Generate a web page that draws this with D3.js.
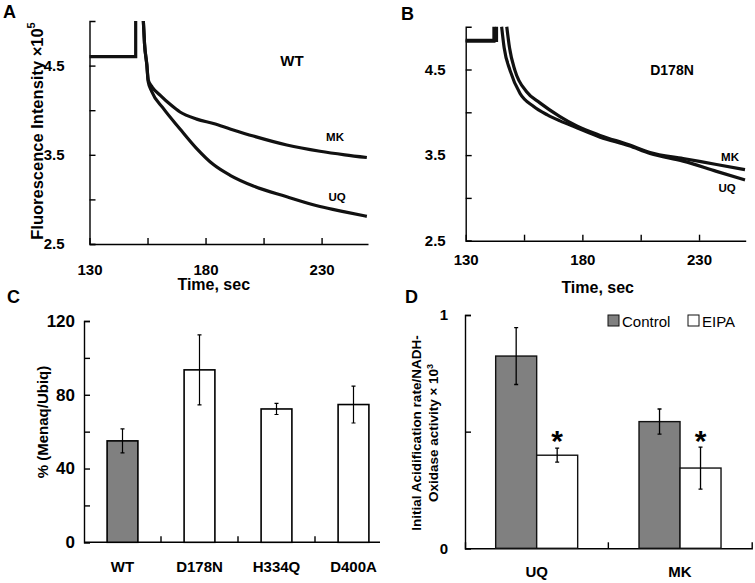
<!DOCTYPE html>
<html lang="en">
<head>
  <meta charset="UTF-8">
  <title>Menaquinone / ubiquinone acidification</title>
  <style>
    body { margin: 0; background: #fff; }
    svg { display: block; }
  </style>
</head>
<body>
  <script src="https://d3js.org/d3.v7.min.js"></script>
  <script>
    // ---- data ----
    // A / B : fluorescence traces [time sec, intensity x1e5]
    const timeTicks = [130, 155, 180, 205, 230];
    const timeLabels = [130, 180, 230];
    const intensityTicks = [2.5, 3, 3.5, 4, 4.5];
    const intensityLabels = [2.5, 3.5, 4.5];

    const wtBaseline = [[130, 4.6], [149.9, 4.6], [149.9, 5.0]];
    const wtMK = [[153.2, 5.0], [153.7, 4.75], [154.7, 4.51], [155.3, 4.34], [157, 4.26], [160.4, 4.17], [165, 4.06], [169, 3.98], [176.2, 3.9], [183.4, 3.85], [190.6, 3.79], [200.6, 3.71], [215, 3.61], [229.3, 3.54], [240, 3.5], [249.5, 3.47]];
    const wtUQ = [[153.2, 5.0], [153.7, 4.75], [154.7, 4.51], [155.3, 4.32], [156.8, 4.21], [161.8, 4.02], [169, 3.79], [176.2, 3.57], [183.4, 3.39], [190.6, 3.27], [200.6, 3.15], [215, 3.03], [229.3, 2.92], [240, 2.86], [249.5, 2.81]];

    const d178nBaseUQ = [[130, 4.83], [142.1, 4.83], [142.1, 5.0]];
    const d178nBaseMK = [[130, 4.84], [143.2, 4.84], [143.2, 5.0]];
    const d178nUQ = [[145.4, 5.0], [146.5, 4.75], [149, 4.49], [153.3, 4.22], [159, 4.07], [165, 3.97], [170.4, 3.9], [177.6, 3.82], [187.6, 3.71], [200, 3.61], [209, 3.52], [223.2, 3.43], [237.5, 3.31], [249.7, 3.21]];
    const d178nMK = [[147.6, 5.0], [148.8, 4.75], [151.1, 4.49], [156.1, 4.24], [161.8, 4.11], [170.4, 3.95], [177.6, 3.84], [187.6, 3.73], [200, 3.62], [209, 3.53], [223.2, 3.46], [237.5, 3.39], [249.7, 3.33]];

    // C : % (Menaq/Ubiq)
    const mutants = ['WT', 'D178N', 'H334Q', 'D400A'];
    const menaqRatio = [55, 93.5, 72.3, 74.7];
    const menaqErr = [6.5, 19, 3, 10];
    const ratioTicks = [0, 20, 40, 60, 80, 100, 120];
    const ratioLabels = [0, 40, 80, 120];

    // D : initial acidification rate / NADH oxidase
    const substrates = ['UQ', 'MK'];
    const treatments = ['Control', 'EIPA'];
    const controlRate = [0.824, 0.543];
    const controlErr = [0.122, 0.054];
    const eipaRate = [0.399, 0.344];
    const eipaErr = [0.03, 0.09];
    const rateTicks = [0, 0.5, 1];
    const rateLabels = [0, 1];

    const [width, height] = [755, 583];
    const svg = d3.select('body').append('svg').attr('width', width).attr('height', height);

    const arial = '"Liberation Sans", Arial, sans-serif';
    const grey = '#808080';

    function styleAxis(g, size) {
      g.select('.domain').attr('stroke', '#000').attr('stroke-width', 1.4);
      g.selectAll('.tick line').attr('stroke', '#000').attr('stroke-width', 1.4);
      g.selectAll('.tick text').attr('fill', '#000')
        .style('font-family', arial).style('font-size', size + 'px').style('font-weight', 'bold');
    }

    function panelLetter(txt, x, y) {
      svg.append('text').attr('x', x).attr('y', y).text(txt)
        .style('font-family', arial).style('font-weight', 'bold').style('font-size', '18px');
    }

    // ---------- trace panels ----------
    function tracePanel(o) {
      const x = d3.scaleLinear().domain([130, 250]).range(o.xr);
      const y = d3.scaleLinear().domain([2.5, 5]).range(o.yr);
      const g = svg.append('g');

      const xAxis = d3.axisBottom(x).tickValues(timeTicks).tickSizeInner(-6).tickSizeOuter(0)
        .tickPadding(o.xPad).tickFormat(d => timeLabels.includes(d) ? d : '');
      const yAxis = d3.axisLeft(y).tickValues(intensityTicks).tickSizeInner(-6).tickSizeOuter(-6)
        .tickPadding(o.yPad).tickFormat(d => intensityLabels.includes(d) ? d3.format('.1f')(d) : '');

      g.append('g').attr('transform', `translate(0,${o.yr[0]})`).call(xAxis).call(a => styleAxis(a, o.fs));
      g.append('g').attr('transform', `translate(${o.xr[0]},0)`).call(yAxis).call(a => styleAxis(a, o.fs));

      const straight = d3.line().x(d => x(d[0])).y(d => y(d[1]));
      const smooth = d3.line().x(d => x(d[0])).y(d => y(d[1])).curve(d3.curveMonotoneX);

      o.bases.forEach(b => g.append('path').attr('d', straight(b))
        .attr('fill', 'none').attr('stroke', '#111').attr('stroke-width', 3.2));
      o.traces.forEach(t => g.append('path').attr('d', smooth(t))
        .attr('fill', 'none').attr('stroke', '#111').attr('stroke-width', 3.2));

      g.append('text').attr('x', (o.xr[0] + o.xr[1]) / 2 + o.titleDx).attr('y', o.yr[0] + o.titleDy)
        .attr('text-anchor', 'middle').text('Time, sec')
        .style('font-family', arial).style('font-weight', 'bold').style('font-size', '16px');

      o.notes.forEach(n => g.append('text').attr('x', n.x).attr('y', n.y).attr('text-anchor', 'middle')
        .attr('dominant-baseline', 'central').text(n.t)
        .style('font-family', arial).style('font-weight', 'bold').style('font-size', n.s + 'px'));
      return g;
    }

    tracePanel({
      xr: [89.5, 368], yr: [244, 21], xPad: 20, yPad: 25, fs: 15,
      titleDx: -15, titleDy: 46,
      bases: [wtBaseline], traces: [wtMK, wtUQ],
      notes: [{ t: 'WT', x: 292, y: 60, s: 15 }, { t: 'MK', x: 335, y: 137, s: 11.5 }, { t: 'UQ', x: 337, y: 197, s: 11.5 }]
    });

    tracePanel({
      xr: [465.7, 745.7], yr: [240.7, 26.7], xPad: 14, yPad: 20, fs: 15,
      titleDx: -8, titleDy: 52,
      bases: [d178nBaseUQ, d178nBaseMK], traces: [d178nUQ, d178nMK],
      notes: [{ t: 'D178N', x: 672, y: 70, s: 14 }, { t: 'MK', x: 730, y: 157, s: 11.5 }, { t: 'UQ', x: 727, y: 188, s: 11.5 }]
    });

    // y label A
    svg.append('text').attr('transform', 'translate(37,131) rotate(-90)').attr('text-anchor', 'middle')
      .attr('dominant-baseline', 'central')
      .style('font-family', arial).style('font-weight', 'bold').style('font-size', '16.5px')
      .call(t => {
        t.append('tspan').text('Fluorescence Intensity \u00d710');
        t.append('tspan').attr('dy', -6).style('font-size', '11px').text('5');
      });

    panelLetter('A', 3, 18);
    panelLetter('B', 401, 20);
    panelLetter('C', 7, 303);
    panelLetter('D', 405, 303);

    // ---------- C : bar chart ----------
    {
      const x = d3.scaleBand().domain(mutants).range([84, 392]).paddingInner(0.6).paddingOuter(0.3);
      const y = d3.scaleLinear().domain([0, 120]).range([542.3, 321]);
      const g = svg.append('g');

      const yAxis = d3.axisLeft(y).tickValues(ratioTicks).tickSizeInner(-6).tickSizeOuter(-6)
        .tickPadding(9).tickFormat(d => ratioLabels.includes(d) ? d : '');
      g.append('g').attr('transform', 'translate(84,0)').call(yAxis).call(a => styleAxis(a, 17));

      const xAxis = d3.axisBottom(x).tickSizeInner(-6).tickSizeOuter(0).tickPadding(19);
      g.append('g').attr('transform', 'translate(0,542.3)').call(xAxis)
        .call(a => styleAxis(a, 15))
        .call(a => a.select('.domain').attr('d', 'M84,0H380'));

      // ticks between categories
      const step = x.step();
      g.selectAll('.sep').data(mutants.slice(1)).enter().append('line')
        .attr('x1', d => x(d) - step * 0.3).attr('x2', d => x(d) - step * 0.3)
        .attr('y1', 542.3).attr('y2', 536.3).attr('stroke', '#000').attr('stroke-width', 1.4);

      g.selectAll('.bar').data(mutants).enter().append('rect')
        .attr('x', d => x(d)).attr('width', x.bandwidth())
        .attr('y', (d, i) => y(menaqRatio[i])).attr('height', (d, i) => y(0) - y(menaqRatio[i]))
        .attr('fill', (d, i) => i === 0 ? grey : '#fff').attr('stroke', '#000').attr('stroke-width', 1.6);

      g.selectAll('.err').data(mutants).enter().append('path')
        .attr('d', (d, i) => {
          const cx = x(d) + x.bandwidth() / 2;
          const t = y(menaqRatio[i] + menaqErr[i]), b = y(menaqRatio[i] - menaqErr[i]);
          return `M${cx - 2},${t}H${cx + 2}M${cx},${t}V${b}M${cx - 2},${b}H${cx + 2}`;
        })
        .attr('fill', 'none').attr('stroke', '#000').attr('stroke-width', 1.2);

      g.append('text').attr('transform', 'translate(42,422) rotate(-90)').attr('text-anchor', 'middle')
        .attr('dominant-baseline', 'central').text('% (Menaq/Ubiq)')
        .style('font-family', arial).style('font-weight', 'bold').style('font-size', '15px');
    }

    // ---------- D : grouped bars ----------
    {
      const x0 = d3.scaleBand().domain(substrates).range([465, 751.7]).paddingInner(0.428).paddingOuter(0.214);
      const x1 = d3.scaleBand().domain(treatments).range([0, x0.bandwidth()]);
      const y = d3.scaleLinear().domain([0, 1]).range([548.3, 315]);
      const g = svg.append('g');

      const yAxis = d3.axisLeft(y).tickValues(rateTicks).tickSizeInner(-6).tickSizeOuter(-6)
        .tickPadding(17).tickFormat(d => rateLabels.includes(d) ? d : '');
      g.append('g').attr('transform', 'translate(465,0)').call(yAxis).call(a => styleAxis(a, 15));

      const xAxis = d3.axisBottom(x0).tickSizeInner(-6).tickSizeOuter(-6).tickPadding(18);
      g.append('g').attr('transform', 'translate(0,548.3)').call(xAxis).call(a => styleAxis(a, 15));

      const sepX = x0('MK') - x0.step() * 0.428 / 2;
      g.append('line').attr('x1', sepX).attr('x2', sepX).attr('y1', 548.3).attr('y2', 542.3)
        .attr('stroke', '#000').attr('stroke-width', 1.4);

      const rows = substrates.flatMap((s, i) => [
        { s, t: 'Control', v: controlRate[i], e: controlErr[i] },
        { s, t: 'EIPA', v: eipaRate[i], e: eipaErr[i] }
      ]);

      g.selectAll('.bar').data(rows).enter().append('rect')
        .attr('x', d => x0(d.s) + x1(d.t)).attr('width', x1.bandwidth())
        .attr('y', d => y(d.v)).attr('height', d => y(0) - y(d.v))
        .attr('fill', d => d.t === 'Control' ? grey : '#fff').attr('stroke', '#111').attr('stroke-width', 1.4);

      g.selectAll('.err').data(rows).enter().append('path')
        .attr('d', d => {
          const cx = x0(d.s) + x1(d.t) + x1.bandwidth() / 2;
          const t = y(d.v + d.e), b = y(d.v - d.e);
          return `M${cx - 2},${t}H${cx + 2}M${cx},${t}V${b}M${cx - 2},${b}H${cx + 2}`;
        })
        .attr('fill', 'none').attr('stroke', '#000').attr('stroke-width', 1.3);

      g.selectAll('.star').data(rows.filter(d => d.t === 'EIPA')).enter().append('text')
        .attr('x', d => x0(d.s) + x1(d.t) + x1.bandwidth() / 2).attr('y', 451)
        .attr('text-anchor', 'middle').text('*')
        .style('font-family', arial).style('font-weight', 'bold').style('font-size', '30px');

      // legend
      const lg = g.append('g');
      treatments.forEach((t, i) => {
        const lx = [608, 688][i];
        lg.append('rect').attr('x', lx).attr('y', 315).attr('width', 11).attr('height', 11)
          .attr('fill', i === 0 ? grey : '#fff').attr('stroke', '#111').attr('stroke-width', 1);
        lg.append('text').attr('x', lx + 14).attr('y', 321).attr('dominant-baseline', 'central').text(t)
          .style('font-family', arial).style('font-size', '15px');
      });

      const yl = g.append('text').attr('transform', 'translate(425,433) rotate(-90)').attr('text-anchor', 'middle')
        .style('font-family', arial).style('font-weight', 'bold').style('font-size', '13.5px');
      yl.append('tspan').attr('x', 0).attr('dy', -4).text('Initial Acidification rate/NADH-');
      const l2 = yl.append('tspan').attr('x', 0).attr('dy', 17);
      l2.append('tspan').text('Oxidase activity \u00d7 10');
      l2.append('tspan').attr('dy', -5).style('font-size', '9px').text('3');
    }
  </script>
</body>
</html>
